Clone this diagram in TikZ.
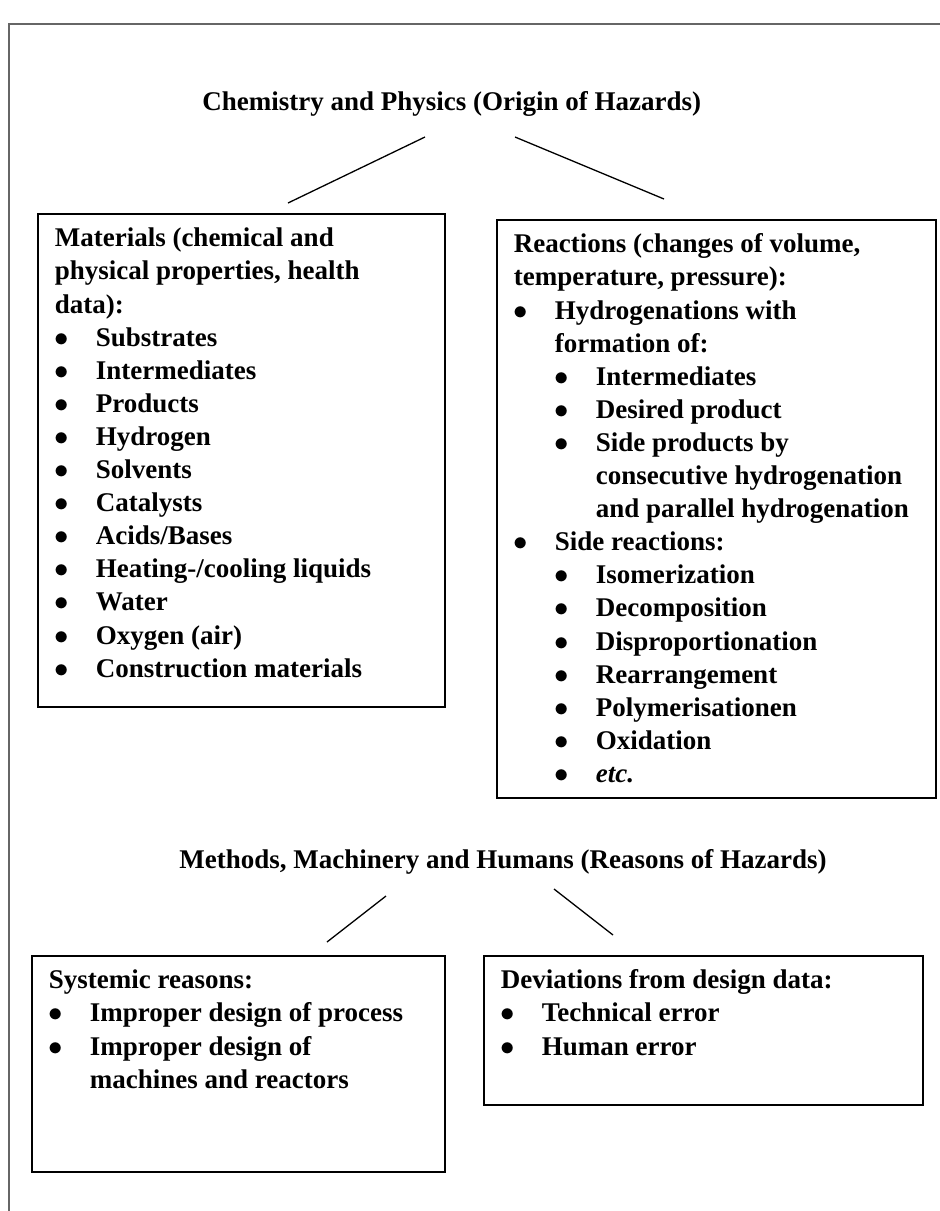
\documentclass[tikz,border=0pt]{standalone}
\usepackage{fontspec}
\setmainfont{Liberation Serif}
\usetikzlibrary{shadows}

% list items inside the boxes
\newcommand\itm[1]{\par\hangindent=20.5pt\hangafter=1\noindent\makebox[20.5pt][l]{$\bullet$}#1}
\newcommand\subitm[1]{\par\hangindent=41pt\hangafter=1\noindent\hspace*{20.5pt}\makebox[20.5pt][l]{$\bullet$}#1}
\newenvironment{panelbody}[2]{\begin{minipage}[t][#1][t]{#2}\raggedright
  \parindent=0pt\parskip=0pt\fontsize{13.5pt}{16.55pt}\selectfont\bfseries
  \leavevmode\rule{0pt}{16.5pt}\ignorespaces}{\end{minipage}}

\tikzset{
  panel/.style={draw, fill=white, line width=0.8pt, inner xsep=8.5pt, inner ysep=0pt,
    general shadow={shadow xshift=0.6pt, shadow yshift=-0.6pt, fill=black!35}},
  heading/.style={font=\fontsize{13.5pt}{16.55pt}\selectfont\bfseries, inner sep=0pt},
  link/.style={line width=0.65pt},
  frame/.style={draw=black!60, line width=1pt}
}

\begin{document}
\begin{tikzpicture}[x=0.5pt, y=-0.5pt]
  % page
  \useasboundingbox (0,0) rectangle (940,1211);
  \draw[frame] (940,24) -- (9,24) -- (9,1211);

  % origin of hazards
  \node[heading, anchor=base west] (chem) at (202,110) {Chemistry and Physics (Origin of Hazards)};

  \node[panel, anchor=north west] (mat) at (37,213) {\begin{panelbody}{246.5pt}{186.5pt}
    Materials (chemical and\newline physical properties, health\newline data):
    \itm{Substrates}
    \itm{Intermediates}
    \itm{Products}
    \itm{Hydrogen}
    \itm{Solvents}
    \itm{Catalysts}
    \itm{Acids/Bases}
    \itm{Heating-/cooling liquids}
    \itm{Water}
    \itm{Oxygen (air)}
    \itm{Construction materials}
  \end{panelbody}};

  \node[panel, anchor=north west] (rea) at (496,219) {\begin{panelbody}{289pt}{202.5pt}
    Reactions (changes of volume,\newline temperature, pressure):
    \itm{Hydrogenations with\newline formation of:}
    \subitm{Intermediates}
    \subitm{Desired product}
    \subitm{Side products by\newline consecutive hydrogenation\newline and parallel hydrogenation}
    \itm{Side reactions:}
    \subitm{Isomerization}
    \subitm{Decomposition}
    \subitm{Disproportionation}
    \subitm{Rearrangement}
    \subitm{Polymerisationen}
    \subitm{Oxidation}
    \subitm{\textit{etc.}}
  \end{panelbody}};

  % reasons of hazards
  \node[heading, anchor=base west] (meth) at (179,868) {Methods, Machinery and Humans (Reasons of Hazards)};

  \node[panel, anchor=north west] (sys) at (31,955) {\begin{panelbody}{108pt}{189.5pt}
    Systemic reasons:
    \itm{Improper design of process}
    \itm{Improper design of\newline machines and reactors}
  \end{panelbody}};

  \node[panel, anchor=north west] (dev) at (483,955) {\begin{panelbody}{74.5pt}{202.5pt}
    Deviations from design data:
    \itm{Technical error}
    \itm{Human error}
  \end{panelbody}};

  % connecting strokes (they stop short of the boxes)
  \coordinate (chemL) at (425,137);
  \coordinate (matTop) at (288,203);
  \coordinate (chemR) at (515,137);
  \coordinate (reaTop) at (664,199);
  \coordinate (methL) at (386,896);
  \coordinate (sysTop) at (327,942);
  \coordinate (methR) at (554,889);
  \coordinate (devTop) at (613,935);

  \draw[link] (chemL) -- (matTop);
  \draw[link] (chemR) -- (reaTop);
  \draw[link] (methL) -- (sysTop);
  \draw[link] (methR) -- (devTop);
\end{tikzpicture}
\end{document}
